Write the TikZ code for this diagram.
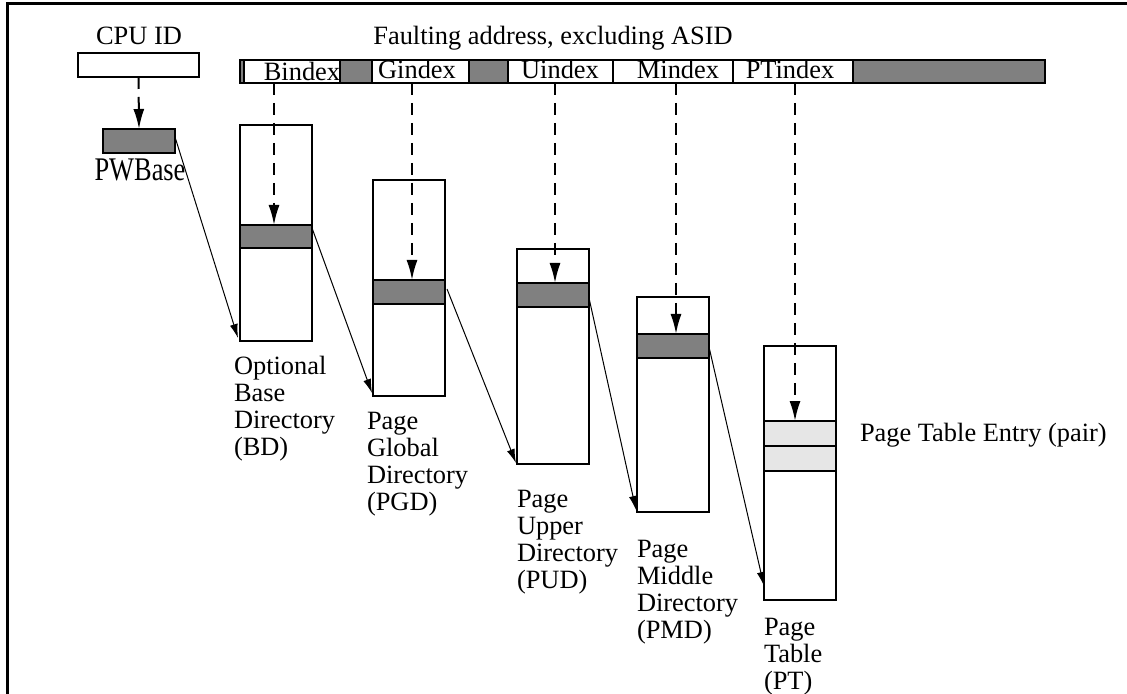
\documentclass[tikz,border=0pt]{standalone}
\usepackage{fontspec}
\setmainfont{Liberation Serif}
\usetikzlibrary{arrows.meta}
\definecolor{rowgray}{HTML}{808080}
\definecolor{ptegray}{HTML}{E6E6E6}
\begin{document}
\begin{tikzpicture}[x=0.5pt,y=-0.5pt,
  cell/.style={draw, line width=1pt, inner sep=0pt, outer sep=0pt, anchor=north west, fill=white},
  dark/.style={cell, fill=rowgray},
  light/.style={cell, fill=ptegray},
  txt/.style={inner sep=0pt, outer sep=0pt, font=\fontsize{13.2pt}{13.5pt}\selectfont},
  dasharrow/.style={line width=1pt, dash pattern=on 6pt off 4pt, -{Latex[length=10pt,width=5.5pt]}},
  ptr/.style={line width=0.5pt, -{Latex[length=7pt,width=4pt]}},
]
\useasboundingbox (0,0) rectangle (1127,694);
% frame
\draw[line width=1.5pt] (1127,3.5) -- (7.5,3.5) -- (7.5,694);

% CPU ID and PWBase
\node[txt, anchor=base] (cpuid) at (139,45) {CPU ID};
\node[cell, minimum width=60.5pt, minimum height=12pt] (cpu) at (78,53) {};
\node[dark, minimum width=36pt, minimum height=12pt] (pwb) at (103,129) {};
\node[txt, anchor=base] (pwblabel) at (140,181) {\scalebox{1}[1.25]{PWBase}};

% faulting address bar
\node[txt, anchor=base] (fa) at (553,45) {Faulting address, excluding ASID};
\node[dark, minimum width=2pt, minimum height=11.5pt] (g0) at (240,60) {};
\node[cell, minimum width=48pt, minimum height=11.5pt] (bidx) at (244,60) {};
\node[dark, minimum width=16pt, minimum height=11.5pt] (g1) at (340,60) {};
\node[cell, minimum width=48.5pt, minimum height=11.5pt] (gidx) at (372,60) {};
\node[dark, minimum width=19.5pt, minimum height=11.5pt] (g2) at (469,60) {};
\node[cell, minimum width=52.5pt, minimum height=11.5pt] (uidx) at (508,60) {};
\node[cell, minimum width=60pt, minimum height=11.5pt] (midx) at (613,60) {};
\node[cell, minimum width=60pt, minimum height=11.5pt] (ptidx) at (733,60) {};
\node[dark, minimum width=96pt, minimum height=11.5pt] (g3) at (853,60) {};
\node[txt, anchor=base] (bl) at (302,81) {Bindex};
\node[txt, anchor=base] (gl) at (417,79) {Gindex};
\node[txt, anchor=base] (ul) at (560,79) {Uindex};
\node[txt, anchor=base] (ml) at (678,79) {Mindex};
\node[txt, anchor=base] (pl) at (790,79) {PTindex};

% tables
\node[cell, minimum width=36pt, minimum height=108pt] (bd) at (240,125) {};
\node[dark, minimum width=36pt, minimum height=11.5pt] (bdrow) at (240,225) {};
\node[cell, minimum width=36pt, minimum height=108pt] (pgd) at (373,180) {};
\node[dark, minimum width=36pt, minimum height=12pt] (pgdrow) at (373,280) {};
\node[cell, minimum width=36pt, minimum height=107.5pt] (pud) at (517,249) {};
\node[dark, minimum width=36pt, minimum height=12pt] (pudrow) at (517,283) {};
\node[cell, minimum width=36pt, minimum height=107.5pt] (pmd) at (637,297) {};
\node[dark, minimum width=36pt, minimum height=12pt] (pmdrow) at (637,334) {};
\node[cell, minimum width=36pt, minimum height=127pt] (pt) at (764,346) {};
\node[light, minimum width=36pt, minimum height=12.5pt] (pte1) at (764,421) {};
\node[light, minimum width=36pt, minimum height=12.5pt] (pte2) at (764,446) {};

% labels
\node[txt, anchor=base west] (bdl) at (234,374) {\vtop{\hbox{Optional}\hbox{Base}\hbox{Directory}\hbox{(BD)}}};
\node[txt, anchor=base west] (pgdl) at (367,429) {\vtop{\hbox{Page}\hbox{Global}\hbox{Directory}\hbox{(PGD)}}};
\node[txt, anchor=base west] (pudl) at (517,507) {\vtop{\hbox{Page}\hbox{Upper}\hbox{Directory}\hbox{(PUD)}}};
\node[txt, anchor=base west] (pmdl) at (637,557) {\vtop{\hbox{Page}\hbox{Middle}\hbox{Directory}\hbox{(PMD)}}};
\node[txt, anchor=base west] (ptl) at (764,635) {\vtop{\hbox{Page}\hbox{Table}\hbox{(PT)}}};
\node[txt, anchor=base west] (ptel) at (860,441) {Page Table Entry (pair)};

% dashed index arrows
\coordinate (bx) at (274,83);
\coordinate (gx) at (412,83);
\coordinate (ux) at (555,83);
\coordinate (mx) at (676,83);
\coordinate (px) at (795,83);
\draw[dasharrow] (cpu.south) -- (pwb.north);
\draw[dasharrow] (bx) -- (bx |- bdrow.north);
\draw[dasharrow] (gx) -- (gx |- pgdrow.north);
\draw[dasharrow] (ux) -- (ux |- pudrow.north);
\draw[dasharrow] (mx) -- (mx |- pmdrow.north);
\draw[dasharrow] (px) -- (px |- pte1.north);

% pointer arrows
\draw[ptr] ([yshift=-4pt]pwb.north east) -- ([xshift=-1pt,yshift=1.5pt]bd.south west);
\draw[ptr] ([yshift=-1.5pt]bdrow.north east) -- ([xshift=-0.5pt,yshift=1.5pt]pgd.south west);
\draw[ptr] ([xshift=1pt,yshift=-4.5pt]pgdrow.north east) -- ([xshift=-0.5pt,yshift=0.5pt]pud.south west);
\draw[ptr] ([yshift=-7.5pt]pudrow.north east) -- ([xshift=-0.5pt,yshift=1pt]pmd.south west);
\draw[ptr] ([yshift=-6.5pt]pmdrow.north east) -- ([yshift=7pt]pt.south west);
\end{tikzpicture}
\end{document}
